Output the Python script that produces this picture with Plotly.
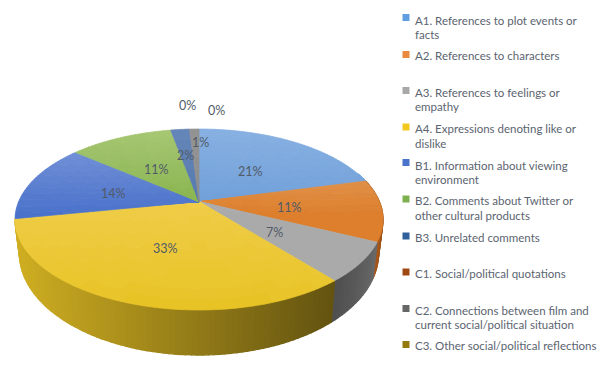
import numpy as np
import plotly.graph_objects as go

categories = ["A1", "A2", "A3", "A4", "B1", "B2", "B3", "C1", "C2", "C3"]
values = [21, 11, 7, 33, 14, 11, 2, 0, 1, 0]
value_labels = ["21%", "11%", "7%", "33%", "14%", "11%", "2%", "0%", "1%", "0%"]
legend_lines = [
    ["A1. References to plot events or", "facts"],
    ["A2. References to characters"],
    ["A3. References to feelings or", "empathy"],
    ["A4. Expressions denoting like or", "dislike"],
    ["B1. Information about viewing", "environment"],
    ["B2. Comments about Twitter or", "other cultural products"],
    ["B3. Unrelated comments"],
    ["C1. Social/political quotations"],
    ["C2. Connections between film and", "current social/political situation"],
    ["C3. Other social/political reflections"],
]

# style / layout tables
top_back = ["#87b0e2", "#e3a873", "#c2c2c2", "#f5d35f", "#7e99da", "#a6c672", "#6485b8", "#8e5a30", "#939393", "#a08a30"]
top_front = ["#6c9dd7", "#dd7f2d", "#aaaaaa", "#e7c222", "#4a72cb", "#84b24a", "#3a659e", "#8e5a30", "#828282", "#a08a30"]
side_left = ["#6c9dd7", "#a5561a", "#4f4f4f", "#cfae22", "#3f63ae", "#6f9a3c", "#30568a", "#8e4510", "#6a6a6a", "#8a7010"]
side_right = ["#6c9dd7", "#8e4a14", "#6a6a6a", "#635310", "#3f63ae", "#6f9a3c", "#30568a", "#8e4510", "#6a6a6a", "#8a7010"]
swatches = ["#5f9ee0", "#ea8a3e", "#a8a8a8", "#f2c81e", "#4a74cc", "#7fb04f", "#2f6099", "#9e4a12", "#666666", "#94790f"]
swatch_y = [17.5, 54.5, 90.5, 127, 162.5, 199, 236, 272, 308.5, 344.5]
legend_y = [[20, 34], [55.5], [92.5, 106.5], [128.5, 143], [165, 179.5], [200.5, 215.5], [237.5], [273.5], [310, 324.5], [345.5]]
manual_label_xy = {6: (185.5, 155), 7: (187.5, 105), 8: (200, 142), 9: (216, 110)}

CX, P = 199.0, 0.1967


def project(theta, r, level):
    """Clockwise angle from the back of the pie to page pixels (tilted disc)."""
    X, Y = r * np.sin(theta), r * np.cos(theta)
    w = 1 + P * Y
    if level == "top":
        return CX + 180.4 * X / w, 201.7 - 87.0 * Y / w
    return CX + 176.0 * X / w, 233.5 - 97.6 * Y / w


def mix(c1, c2, t):
    a = [int(c1[i:i + 2], 16) for i in (1, 3, 5)]
    b = [int(c2[i:i + 2], 16) for i in (1, 3, 5)]
    return "#%02x%02x%02x" % tuple(round(p + (q - p) * t) for p, q in zip(a, b))


def add_polys(fig, polys, color, width=0.7):
    xs, ys = [], []
    for px, py in polys:
        xs += list(px) + [px[0], None]
        ys += list(py) + [py[0], None]
    fig.add_trace(go.Scatter(x=xs, y=ys, mode="lines", fill="toself", fillcolor=color,
                             line=dict(color=color, width=width), hoverinfo="skip", showlegend=False))


fig = go.Figure()
fractions = np.cumsum([0] + values) / sum(values) * 2 * np.pi
LEVELS = 60

# side wall: one merged band per shade, painted in order so no seams show
for i in range(len(values)):
    a0, a1 = fractions[i], fractions[i + 1]
    a0c, a1c = max(a0, np.radians(70)), min(a1, np.radians(259.2))
    if a1c <= a0c:
        continue
    edges = np.linspace(a0c, a1c, int(np.degrees(a1c - a0c) / 1.5) + 2)
    for t0, t1 in zip(edges[:-1], edges[1:]):
        x0, y0 = project(t0, 1, "top"); x1, y1 = project(t1, 1, "top")
        x2, y2 = project(t1, 1, "bot"); x3, y3 = project(t0, 1, "bot")
        t = np.clip(((x0 + x1) / 2 - 15) / 320, 0, 1) if i == 3 else (a1c - (t0 + t1) / 2) / (a1c - a0c)
        add_polys(fig, [((x0, x1, x2, x3), (y0, y1, y2, y3))], mix(side_left[i], side_right[i], t), width=1.3)

# top face with a soft top-to-bottom shade
for i in range(len(values)):
    a0, a1 = fractions[i], fractions[i + 1]
    if a1 <= a0:
        continue
    n = max(2, int(np.degrees(a1 - a0) / 1.5))
    th = np.linspace(a0, a1, n + 1)
    rr = np.linspace(0, 1, 13)
    buckets = {}
    for t0, t1 in zip(th[:-1], th[1:]):
        for r0, r1 in zip(rr[:-1], rr[1:]):
            x0, y0 = project(t0, r0, "top"); x1, y1 = project(t1, r0, "top")
            x2, y2 = project(t1, r1, "top"); x3, y3 = project(t0, r1, "top")
            t = np.clip(((y0 + y1 + y2 + y3) / 4 - 129) / 181, 0, 1)
            if i in (0, 1, 2, 4, 5):
                t = np.clip(t * 2.2, 0, 1)
            buckets.setdefault(int(t * 14), []).append(((x0, x1, x2, x3), (y0, y1, y2, y3)))
    for k in sorted(buckets):
        add_polys(fig, buckets[k], mix(top_back[i], top_front[i], k / 14))

annotations = []
for i, lab in enumerate(value_labels):
    if i in manual_label_xy:
        lx, ly = manual_label_xy[i]
    else:
        mid = (fractions[i] + fractions[i + 1]) / 2
        lx, ly = project(mid, 0.5, "top")
        ly += 2
    annotations.append(dict(x=lx, y=ly, text=lab, showarrow=False, xanchor="center", yanchor="middle",
                            font=dict(family="Lato", size=12.5, color="#515b68")))

shapes = []
for col, sy, lines, ys in zip(swatches, swatch_y, legend_lines, legend_y):
    shapes.append(dict(type="rect", x0=402.5, x1=409.5, y0=sy - 3.5, y1=sy + 3.5,
                       fillcolor=col, line=dict(width=0)))
    for line, y in zip(lines, ys):
        annotations.append(dict(x=412.5, y=y, text=line, showarrow=False, xanchor="left", yanchor="middle",
                                font=dict(family="Lato", size=11.5, color="#5b6470")))

fig.update_layout(width=600, height=382, margin=dict(l=0, r=0, t=0, b=0), showlegend=False,
                  paper_bgcolor="white", plot_bgcolor="white", annotations=annotations, shapes=shapes,
                  xaxis=dict(range=[0, 600], visible=False, fixedrange=True),
                  yaxis=dict(range=[382, 0], visible=False, fixedrange=True))
fig.write_html("out.html", config=dict(displayModeBar=False),
               post_script="document.body.style.margin='0';document.documentElement.style.overflow='hidden';")
